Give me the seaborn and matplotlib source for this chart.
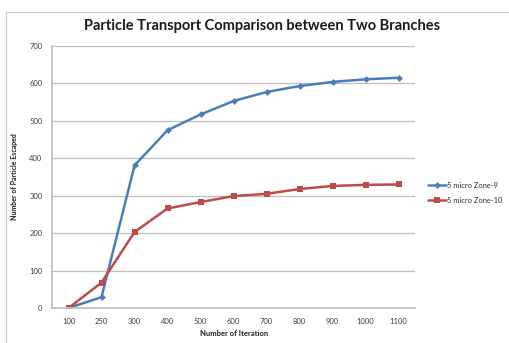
import matplotlib
matplotlib.use("Agg")
import matplotlib.pyplot as plt
import seaborn as sns
import pandas as pd
from matplotlib.patches import Rectangle

iterations = ["100", "250", "300", "400", "500", "600", "700", "800", "900", "1000", "1100"]
zone9 = [0, 29, 381, 475, 517, 553, 577, 593, 604, 611, 615]
zone10 = [0, 68, 203, 266, 283, 299, 305, 318, 326, 329, 330]
series_names = ["5 micro Zone-9", "5 micro Zone-10"]
y_ticks = [0, 100, 200, 300, 400, 500, 600, 700]

df = pd.DataFrame({
    "Iteration": iterations * 2,
    "Escaped": zone9 + zone10,
    "Series": [series_names[0]] * len(iterations) + [series_names[1]] * len(iterations),
})

sns.set_theme(style="white")
plt.rcParams["font.family"] = ["Lato", "DejaVu Sans"]

fig = plt.figure(figsize=(5.10, 3.43), dpi=100)
ax = fig.add_axes([0.102, 0.102, 0.712, 0.764])

# outer chart frame
fig.patches.append(Rectangle((6/510, -0.05), 1.2, 1 - 12/343 + 0.05, transform=fig.transFigure,
                             fill=False, edgecolor="#c8c8c8", linewidth=0.8))

palette = {series_names[0]: "#4A7EBB", series_names[1]: "#BE4B48"}
markers = {series_names[0]: "D", series_names[1]: "s"}
sizes = {series_names[0]: 3.5, series_names[1]: 5}

for name in series_names:
    sub = df[df["Series"] == name]
    sns.lineplot(data=sub, x="Iteration", y="Escaped", ax=ax, color=palette[name],
                 marker=markers[name], markersize=sizes[name], markeredgewidth=0,
                 linewidth=1.8, label=name, sort=False)

ax.set_xlim(-0.5, len(iterations) - 0.5)
ax.set_ylim(0, 700)
ax.set_yticks(y_ticks)
ax.set_yticklabels([str(v) for v in y_ticks])
ax.yaxis.grid(True, color="#bfbfbf", linewidth=0.9)
ax.set_axisbelow(True)
for s in ["top", "right"]:
    ax.spines[s].set_visible(False)
ax.spines["left"].set_color("#bfbfbf")
ax.spines["bottom"].set_color("#bfbfbf")
ax.tick_params(axis="both", labelsize=5.5, colors="#404040", length=0, pad=7)

ax.set_xlabel("Number of Iteration", fontsize=5.5, fontweight="bold", color="#202020", labelpad=4)
ax.set_ylabel("Number of Particle Escaped", fontsize=5, fontweight="bold", color="#202020", labelpad=8)

fig.text(0.514, 1 - 26/343, "Particle Transport Comparison between Two Branches",
         ha="center", va="center", fontsize=10.5, fontweight="bold", color="#1a1a1a")

leg = ax.legend(loc="center left", bbox_to_anchor=(1.03, 0.44), frameon=False, fontsize=5.4,
                handlelength=2.4, handletextpad=0.15, labelspacing=1.1, borderaxespad=0,
                borderpad=0.2)
for t in leg.get_texts():
    t.set_color("#303030")

fig.savefig("out.png", dpi=100, facecolor="white")
